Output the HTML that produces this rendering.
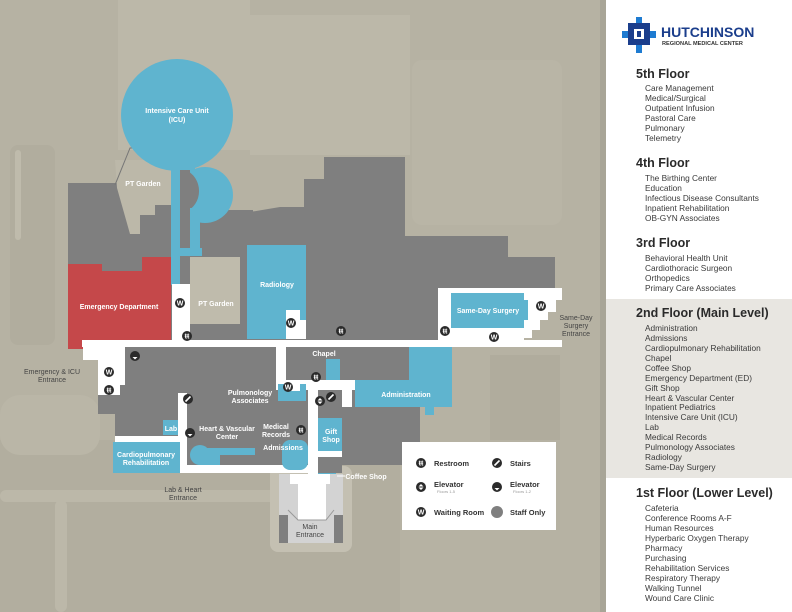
<!DOCTYPE html>
<html><head><meta charset="utf-8"><style>
html,body{margin:0;padding:0;width:792px;height:612px;overflow:hidden;background:#b6b2a3}
svg{display:block}
.l{font-family:"Liberation Sans",sans-serif;font-weight:bold;fill:#fff;font-size:7px;text-anchor:middle}
.d{font-family:"Liberation Sans",sans-serif;fill:#444;font-size:7px;text-anchor:middle}
.h{font-family:"Liberation Sans",sans-serif;font-weight:bold;fill:#2a2a2a;font-size:12.5px}
.i{font-family:"Liberation Sans",sans-serif;fill:#3a3a3a;font-size:8.3px}
.g{font-family:"Liberation Sans",sans-serif;font-weight:bold;fill:#333;font-size:7.5px}
.f{font-family:"Liberation Sans",sans-serif;fill:#999;font-size:4px}
</style></head><body>
<svg width="792" height="612" viewBox="0 0 792 612" xmlns="http://www.w3.org/2000/svg">
<defs>
<g id="w"><circle r="5" fill="#2b2b2b"/><text y="2.5" class="l" font-size="6.5">W</text></g>
<g id="r"><circle r="5" fill="#2b2b2b"/><text y="2.3" class="l" font-size="6">ŧŧ</text></g>
<g id="s"><circle r="5" fill="#2b2b2b"/><path d="M-2.5,2.5 L2.5,-2.5" stroke="#fff" stroke-width="1.6"/></g>
<g id="e"><circle r="5" fill="#2b2b2b"/><path d="M-2.5,1 L2.5,1 L0,3.5Z" fill="#fff"/></g>
<g id="e2"><circle r="5" fill="#2b2b2b"/><path d="M-2.5,-0.5 L2.5,-0.5 L0,-3Z M-2.5,0.5 L2.5,0.5 L0,3Z" fill="#fff"/></g>
</defs>
<rect width="606" height="612" fill="#b6b2a3"/>
<!-- background subtle patches -->
<rect x="118" y="0" width="132" height="150" fill="#bcb8a9"/>
<rect x="250" y="15" width="160" height="140" fill="#bcb8a9"/>
<rect x="412" y="60" width="150" height="165" rx="10" fill="#b9b5a6"/>
<rect x="10" y="145" width="45" height="200" rx="8" fill="#b1ad9e"/>
<rect x="15" y="150" width="6" height="90" rx="3" fill="#bfbbac"/>
<rect x="0" y="440" width="400" height="172" fill="#b2ae9f"/>
<rect x="0" y="490" width="340" height="12" rx="6" fill="#bcb8a9"/>
<rect x="55" y="500" width="12" height="112" rx="6" fill="#bcb8a9"/>
<rect x="490" y="355" width="70" height="85" fill="#b0ac9d"/>
<rect x="270" y="466" width="82" height="86" rx="8" fill="#c4c0b2"/>
<rect x="0" y="395" width="100" height="60" rx="20" fill="#bab6a7"/>
<!-- buildings -->
<rect x="68" y="183" width="112" height="166" fill="#7f7f7f"/>
<path d="M115,160 L172,160 L172,205 L155,205 L155,215 L140,215 L140,234 L130,234 L117,188Z" fill="#bcb8a9"/>
<path d="M115,185 L130,148 L175,146" fill="none" stroke="#777" stroke-width="1"/>
<rect x="178" y="210" width="75" height="130" fill="#7f7f7f"/>
<path d="M250,212 L280,207 L304,207 L304,179 L324,179 L324,157 L405,157 L405,236 L508,236 L508,257 L555,257 L555,292 L451,292 L451,340 L250,340Z" fill="#7f7f7f"/>
<circle cx="177" cy="115" r="56" fill="#5fb4cf"/>
<circle cx="205" cy="195" r="28" fill="#5fb4cf"/>
<rect x="171" y="160" width="24" height="50" fill="#5fb4cf"/>
<path d="M185,170 A20,22 0 0 1 185,212 Z" fill="#7f7f7f"/>
<rect x="180" y="170" width="10" height="80" fill="#7f7f7f"/>
<rect x="190" y="208" width="10" height="40" fill="#5fb4cf"/>
<rect x="171" y="190" width="9" height="95" fill="#5fb4cf"/>
<rect x="180" y="248" width="22" height="8" fill="#5fb4cf"/>
<rect x="190" y="257" width="50" height="67" fill="#bfbbac"/>
<path d="M68,264 L102,264 L102,271 L142,271 L142,257 L171,257 L171,349 L68,349Z" fill="#c5484a"/>
<rect x="247" y="245" width="59" height="94" fill="#5fb4cf"/>
<rect x="286" y="310" width="14" height="29" fill="#fff"/>
<rect x="300" y="320" width="6" height="19" fill="#fff"/>
<rect x="172" y="284" width="18" height="57" fill="#fff"/>
<!-- surgery -->
<path d="M438,288 L562,288 L562,300 L556,300 L556,312 L548,312 L548,320 L540,320 L540,330 L532,330 L532,338 L524,338 L524,347 L438,347Z" fill="#fff"/>
<rect x="451" y="293" width="73" height="35" fill="#5fb4cf"/>
<rect x="518" y="300" width="10" height="20" fill="#5fb4cf"/>
<!-- lower block -->
<path d="M98,347 L420,347 L420,465 L307,465 L307,473 L180,473 L180,442 L115,442 L115,414 L98,414Z" fill="#7f7f7f"/>
<rect x="82" y="340" width="480" height="7" fill="#fff"/>
<path d="M83,340 L125,340 L125,385 L120,385 L120,395 L98,395 L98,360 L83,360Z" fill="#fff"/>
<rect x="115" y="436" width="72" height="6" fill="#fff"/>
<rect x="178" y="393" width="9" height="80" fill="#fff"/>
<rect x="180" y="465" width="130" height="8" fill="#fff"/>
<rect x="113" y="442" width="67" height="31" fill="#5fb4cf"/>
<rect x="163" y="420" width="15" height="15" fill="#5fb4cf"/>
<circle cx="200" cy="455" r="10" fill="#5fb4cf"/>
<rect x="200" y="448" width="55" height="17" fill="#5fb4cf"/>
<rect x="220" y="455" width="35" height="10" fill="#7f7f7f"/>
<rect x="282" y="440" width="26" height="30" rx="8" fill="#5fb4cf"/>
<!-- center right -->
<rect x="276" y="345" width="10" height="40" fill="#fff"/>
<rect x="276" y="380" width="80" height="10" fill="#fff"/>
<rect x="308" y="380" width="10" height="100" fill="#fff"/>
<rect x="355" y="347" width="97" height="60" fill="#7f7f7f"/>
<rect x="409" y="347" width="43" height="60" fill="#5fb4cf"/>
<rect x="355" y="380" width="97" height="27" fill="#5fb4cf"/>
<rect x="425" y="405" width="9" height="10" fill="#5fb4cf"/>
<rect x="326" y="359" width="14" height="21" fill="#5fb4cf"/>
<rect x="278" y="384" width="28" height="17" fill="#5fb4cf"/>
<rect x="286" y="384" width="14" height="7" fill="#fff"/>
<rect x="318" y="397" width="24" height="21" fill="#7f7f7f"/>
<rect x="342" y="390" width="10" height="17" fill="#fff"/>
<rect x="318" y="418" width="24" height="33" fill="#5fb4cf"/>
<rect x="318" y="451" width="24" height="6" fill="#fff"/>
<rect x="318" y="459" width="24" height="14" fill="#7f7f7f"/>
<rect x="318" y="473" width="18" height="6" fill="#5fb4cf"/>
<!-- main entrance -->
<rect x="279" y="474" width="64" height="69" fill="#d3d3d3"/>
<path d="M290,474 L330,474 L330,484 L326,484 L326,520 L298,520 L298,484 L290,484Z" fill="#fff"/>
<rect x="279" y="515" width="9" height="28" fill="#7f7f7f"/>
<rect x="334" y="515" width="9" height="28" fill="#7f7f7f"/>
<path d="M288,510 L298,520 L326,520 L334,510" fill="none" stroke="#999" stroke-width="1"/>
<!-- icons -->
<use href="#w" x="180" y="303"/><use href="#r" x="187" y="336"/><use href="#w" x="291" y="323"/>
<use href="#r" x="341" y="331"/><use href="#r" x="445" y="331"/><use href="#w" x="494" y="337"/>
<use href="#w" x="541" y="306"/><use href="#e" x="135" y="356"/><use href="#w" x="109" y="372"/>
<use href="#r" x="109" y="390"/><use href="#w" x="288" y="387"/><use href="#r" x="316" y="377"/>
<use href="#e2" x="320" y="401"/><use href="#s" x="331" y="397"/><use href="#s" x="188" y="399"/>
<use href="#e" x="190" y="433"/><use href="#r" x="301" y="430"/>
<!-- labels -->
<text x="177" y="113" class="l">Intensive Care Unit</text><text x="177" y="122" class="l">(ICU)</text>
<text x="143" y="186" class="l">PT Garden</text><text x="216" y="306" class="l">PT Garden</text>
<text x="119" y="309" class="l">Emergency Department</text>
<text x="277" y="287" class="l">Radiology</text>
<text x="488" y="313" class="l">Same-Day Surgery</text>
<text x="324" y="356" class="l">Chapel</text>
<text x="406" y="397" class="l">Administration</text>
<text x="250" y="395" class="l">Pulmonology</text><text x="250" y="403" class="l">Associates</text>
<text x="171" y="431" class="l">Lab</text>
<text x="227" y="431" class="l">Heart &amp; Vascular</text><text x="227" y="439" class="l">Center</text>
<text x="276" y="429" class="l">Medical</text><text x="276" y="437" class="l">Records</text>
<text x="283" y="450" class="l">Admissions</text>
<text x="331" y="434" class="l">Gift</text><text x="331" y="442" class="l">Shop</text>
<text x="146" y="457" class="l">Cardiopulmonary</text><text x="146" y="465" class="l">Rehabilitation</text>
<path d="M337,476 L345,476" stroke="#fff" stroke-width="1"/>
<text x="366" y="479" class="l">Coffee Shop</text>
<text x="183" y="492" class="d">Lab &amp; Heart</text><text x="183" y="500" class="d">Entrance</text>
<text x="310" y="529" class="d">Main</text><text x="310" y="537" class="d">Entrance</text>
<text x="52" y="374" class="d">Emergency &amp; ICU</text><text x="52" y="382" class="d">Entrance</text>
<text x="576" y="320" class="d">Same-Day</text><text x="576" y="328" class="d">Surgery</text><text x="576" y="336" class="d">Entrance</text>
<!-- legend -->
<rect x="402" y="442" width="154" height="88" fill="#fff"/>
<use href="#r" x="421" y="463"/><text x="434" y="466" class="g">Restroom</text>
<use href="#s" x="497" y="463"/><text x="510" y="466" class="g">Stairs</text>
<use href="#e2" x="421" y="487"/><text x="434" y="487" class="g">Elevator</text><text x="437" y="493" class="f">Floors 1-5</text>
<use href="#e" x="497" y="487"/><text x="510" y="487" class="g">Elevator</text><text x="513" y="493" class="f">Floors 1-2</text>
<use href="#w" x="421" y="512"/><text x="434" y="515" class="g">Waiting Room</text>
<circle cx="497" cy="512" r="6" fill="#7f7f7f"/><text x="510" y="515" class="g">Staff Only</text>
<!-- sidebar -->
<rect x="600" y="0" width="6" height="612" fill="#a8a597"/>
<rect x="606" y="0" width="186" height="612" fill="#fff"/>
<rect x="606" y="299" width="186" height="179" fill="#e8e6e1"/>
<rect x="636" y="17" width="6" height="36" fill="#1e7bd1"/><rect x="622" y="31" width="34" height="7" fill="#1e7bd1"/>
<rect x="628" y="23" width="22" height="22" fill="#1b3e8c"/><rect x="634" y="29" width="10" height="10" fill="#fff"/>
<rect x="637" y="31" width="4" height="6" fill="#1b3e8c"/>
<text x="661" y="37" font-family="Liberation Sans,sans-serif" font-weight="bold" font-size="14" fill="#1b3e8c">HUTCHINSON</text>
<text x="662" y="45" font-family="Liberation Sans,sans-serif" font-weight="bold" font-size="5.6" fill="#333">REGIONAL MEDICAL CENTER</text>
<text x="636" y="78" class="h">5th Floor</text>
<g class="i"><text x="645" y="91">Care Management</text><text x="645" y="101">Medical/Surgical</text><text x="645" y="111">Outpatient Infusion</text><text x="645" y="121">Pastoral Care</text><text x="645" y="131">Pulmonary</text><text x="645" y="141">Telemetry</text></g>
<text x="636" y="167" class="h">4th Floor</text>
<g class="i"><text x="645" y="181">The Birthing Center</text><text x="645" y="191">Education</text><text x="645" y="201">Infectious Disease Consultants</text><text x="645" y="211">Inpatient Rehabilitation</text><text x="645" y="221">OB-GYN Associates</text></g>
<text x="636" y="247" class="h">3rd Floor</text>
<g class="i"><text x="645" y="261">Behavioral Health Unit</text><text x="645" y="271">Cardiothoracic Surgeon</text><text x="645" y="281">Orthopedics</text><text x="645" y="291">Primary Care Associates</text></g>
<text x="636" y="317" class="h">2nd Floor (Main Level)</text>
<g class="i"><text x="645" y="331">Administration</text><text x="645" y="341">Admissions</text><text x="645" y="351">Cardiopulmonary Rehabilitation</text><text x="645" y="361">Chapel</text><text x="645" y="371">Coffee Shop</text><text x="645" y="381">Emergency Department (ED)</text><text x="645" y="391">Gift Shop</text><text x="645" y="401">Heart &amp; Vascular Center</text><text x="645" y="410">Inpatient Pediatrics</text><text x="645" y="420">Intensive Care Unit (ICU)</text><text x="645" y="430">Lab</text><text x="645" y="440">Medical Records</text><text x="645" y="450">Pulmonology Associates</text><text x="645" y="460">Radiology</text><text x="645" y="470">Same-Day Surgery</text></g>
<text x="636" y="497" class="h">1st Floor (Lower Level)</text>
<g class="i"><text x="645" y="511">Cafeteria</text><text x="645" y="521">Conference Rooms A-F</text><text x="645" y="531">Human Resources</text><text x="645" y="541">Hyperbaric Oxygen Therapy</text><text x="645" y="551">Pharmacy</text><text x="645" y="561">Purchasing</text><text x="645" y="571">Rehabilitation Services</text><text x="645" y="581">Respiratory Therapy</text><text x="645" y="591">Walking Tunnel</text><text x="645" y="601">Wound Care Clinic</text></g>
</svg>
</body></html>
